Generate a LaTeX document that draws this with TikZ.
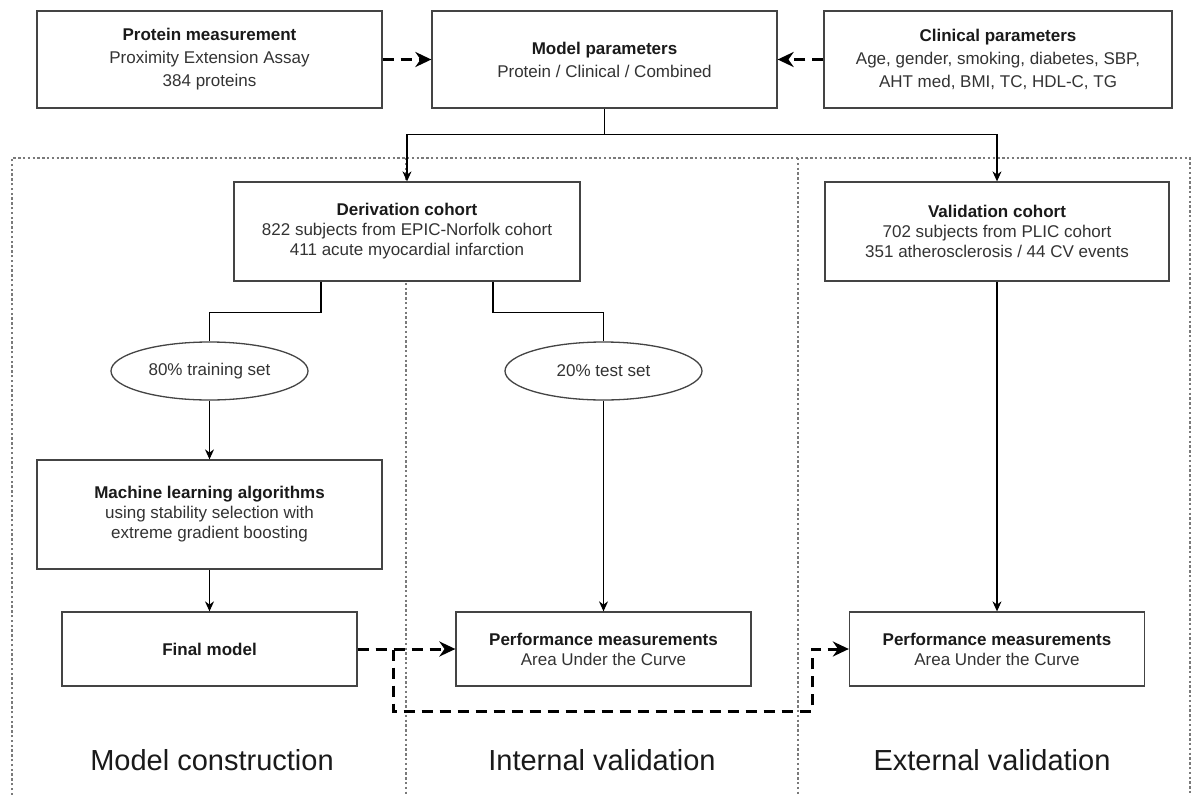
\documentclass[tikz,border=0pt]{standalone}
\usepackage{fontspec}
\setmainfont{Liberation Sans}
\usetikzlibrary{arrows.meta,shapes.geometric}
\definecolor{txt}{HTML}{333333}
\definecolor{ttl}{HTML}{1A1A1A}
\definecolor{brd}{HTML}{444444}
\definecolor{dotc}{HTML}{7A7A7A}
\tikzset{
  box/.style={draw=brd, line width=1.3pt, fill=white, inner sep=0pt, text=txt, align=center,
              font=\fontsize{17}{23}\selectfont},
  cbox/.style={box, font=\fontsize{17}{20}\selectfont},
  oval/.style={draw=brd, line width=1.3pt, fill=white, ellipse, inner sep=0pt, text=txt,
               minimum width=197pt, minimum height=58pt, font=\fontsize{17}{20}\selectfont},
  conn/.style={draw=black, line width=1.1pt},
  arr/.style={conn, -{Stealth[length=10pt,width=9pt]}},
  dasharr/.style={draw=black, line width=3pt, dash pattern=on 11pt off 7pt,
                  -{Stealth[length=16pt,width=15pt]}},
  frameline/.style={draw=dotc, line width=1.2pt, dash pattern=on 2.4pt off 2.4pt},
  lbl/.style={text=ttl, font=\fontsize{29}{34}\selectfont, inner sep=0pt},
}
\newcommand{\ttlb}[1]{\textcolor{ttl}{\bfseries #1}}
\begin{document}
\begin{tikzpicture}[x=1pt,y=-1pt]
\useasboundingbox[fill=white] (0,0) rectangle (1192,795);

% dotted frame
\draw[frameline] (12,795) -- (12,158) -- (1190,158) -- (1190,795);
\draw[frameline] (406,158) -- (406,795);
\draw[frameline] (798,158) -- (798,795);

% top row
\node[box, minimum width=345pt, minimum height=97pt] (prot) at (209.5,59.5)
  {\ttlb{Protein measurement}\\Proximity Extension Assay\\384 proteins};
\node[box, minimum width=345pt, minimum height=97pt] (model) at (604.5,59.5)
  {\ttlb{Model parameters}\\Protein / Clinical / Combined};
\node[box, minimum width=348pt, minimum height=97pt] (clin) at (998,59.5)
  {\ttlb{Clinical parameters}\\Age, gender, smoking, diabetes, SBP,\\AHT med, BMI, TC, HDL-C, TG};

% cohorts
\node[cbox, minimum width=346pt, minimum height=99pt] (deriv) at (407,231.5)
  {\ttlb{Derivation cohort}\\822 subjects from EPIC-Norfolk cohort\\411 acute myocardial infarction};
\node[cbox, minimum width=344pt, minimum height=99pt] (valid) at (997,231.5)
  {\ttlb{Validation cohort}\\702 subjects from PLIC cohort\\351 atherosclerosis / 44 CV events};

% split sets
\node[oval] (train) at (209.5,371) {80\% training set};
\node[oval] (test) at (603.5,371) {20\% test set};

% model construction
\node[cbox, minimum width=345pt, minimum height=109pt] (ml) at (209.5,514.5)
  {\ttlb{Machine learning algorithms}\\using stability selection with\\extreme gradient boosting};
\node[box, minimum width=295pt, minimum height=74pt] (final) at (209.5,649)
  {\ttlb{Final model}};
\node[cbox, minimum width=295pt, minimum height=74pt] (perf1) at (603.5,649)
  {\ttlb{Performance measurements}\\Area Under the Curve};
\node[cbox, minimum width=295pt, minimum height=74pt] (perf2) at (997,649)
  {\ttlb{Performance measurements}\\Area Under the Curve};

% section labels
\node[lbl] (lab1) at (212,760) {Model construction};
\node[lbl] (lab2) at (602,760) {Internal validation};
\node[lbl] (lab3) at (992,760) {External validation};

% solid connectors
\draw[arr] (model.south) -- ++(0,26) -| (deriv.north);
\draw[arr] (model.south) -- ++(0,26) -| (valid.north);
\draw[conn] ([xshift=-86pt]deriv.south) -- ++(0,31) -| (train.north);
\draw[conn] ([xshift=86pt]deriv.south) -- ++(0,31) -| (test.north);
\draw[arr] (train.south) -- (ml.north);
\draw[arr] (ml.south) -- (final.north);
\draw[arr] (test.south) -- (perf1.north);
\draw[arr] (valid.south) -- (perf2.north);

% dashed connectors
\draw[dasharr] (prot.east) -- (model.west);
\draw[dasharr] (clin.west) -- (model.east);
\draw[dasharr] (final.east) -- (perf1.west);
\coordinate (d1) at (393,711);
\coordinate (d2) at (812,711);
\draw[dasharr] (final.east) -| (d1) -- (d2) |- (perf2.west);
\end{tikzpicture}
\end{document}
